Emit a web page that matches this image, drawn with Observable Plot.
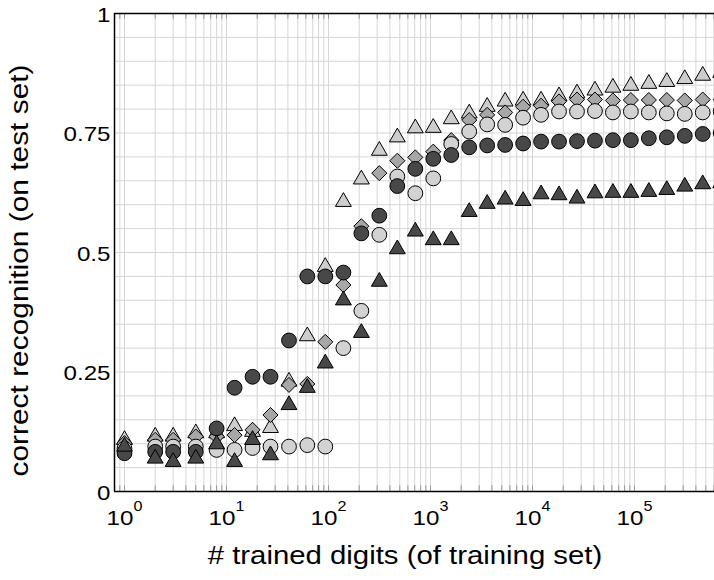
<!DOCTYPE html>
<html><head><meta charset="utf-8">
<script src="https://cdn.jsdelivr.net/npm/d3@7"></script>
<script src="https://cdn.jsdelivr.net/npm/@observablehq/plot@0.6"></script>
<style>body{margin:0;background:#fff}</style>
</head><body><div id="chart"></div>
<script>
const xValues = [1,2,3,5,8,12,18,27,41,62,93,140,210,315,473,710,1065,1598,2397,3596,5394,8091,12137,18206,27309,40964,61446,92169,138254,207381,311072,466608,699912];
const darkCircle = [0.080,0.083,0.083,0.083,0.132,0.217,0.240,0.240,0.316,0.450,0.450,0.458,0.540,0.577,0.639,0.675,0.696,0.704,0.720,0.724,0.725,0.728,0.732,0.732,0.733,0.734,0.735,0.735,0.739,0.741,0.744,0.748,0.750];
const lightCircle = [0.090,0.094,0.094,0.094,0.087,0.087,0.091,0.094,0.094,0.097,0.094,0.300,0.378,0.537,0.659,0.624,0.655,0.727,0.753,0.768,0.767,0.782,0.788,0.795,0.795,0.796,0.793,0.795,0.793,0.791,0.790,0.793,0.795];
const lightTriangle = [0.108,0.115,0.115,0.122,0.122,0.137,0.125,0.133,0.230,0.325,0.470,0.606,0.653,0.713,0.741,0.760,0.761,0.779,0.791,0.805,0.816,0.818,0.818,0.827,0.833,0.839,0.845,0.849,0.853,0.857,0.863,0.870,0.876];
const darkTriangle = [0.094,0.069,0.062,0.069,0.099,0.062,0.108,0.076,0.181,0.217,0.268,0.400,0.332,0.439,0.507,0.544,0.526,0.526,0.585,0.602,0.611,0.608,0.622,0.620,0.613,0.624,0.625,0.625,0.627,0.631,0.638,0.643,0.645];
const diamond = [0.101,0.108,0.108,0.115,0.115,0.118,0.129,0.160,0.223,0.225,0.313,0.432,0.555,0.666,0.692,0.699,0.711,0.735,0.777,0.788,0.793,0.805,0.807,0.816,0.820,0.820,0.818,0.819,0.819,0.819,0.818,0.820,0.820];

const yTicks = [0, 0.25, 0.5, 0.75, 1];
const yTickLabels = ["0", "0.25", "0.5", "0.75", "1"];
const xTicks = [1, 10, 100, 1000, 10000, 100000];
const xTickExponents = ["0", "1", "2", "3", "4", "5"];
const xLabel = "# trained digits (of training set)";
const yLabel = "correct recognition (on test set)";

const xDomain = [0.798, 608700];
const FONT = "'Liberation Sans', Arial, Helvetica, sans-serif";
const TEXT_STRETCH = 1.15;

// series drawn bottom to top
const series = [
  {values: lightTriangle, symbol: "triangle", fill: "#cdcdcd", r: 5.9},
  {values: diamond, symbol: "diamond2", fill: "#a7a7a7", r: 6.8},
  {values: lightCircle, symbol: "circle", fill: "#d2d2d2", r: 7.4},
  {values: darkCircle, symbol: "circle", fill: "#484848", r: 7.4},
  {values: darkTriangle, symbol: "triangle", fill: "#484848", r: 5.9}
];

// grid positions (styling only)
const gridX = [];
for (let k = -1; k <= 5; k++) for (let m = 1; m <= 9; m++) {
  const v = m * Math.pow(10, k);
  if (v > xDomain[0] && v < xDomain[1]) gridX.push(v);
}
const gridY = d3.range(0, 1.0001, 0.05);
const xTickData = xTicks.map((v, i) => ({v, e: xTickExponents[i]}));
const yTickData = yTicks.map((v, i) => ({v, t: yTickLabels[i]}));

const marks = [
  Plot.ruleX(gridX, {x: d => d, stroke: "#d6d6d6", strokeWidth: 1}),
  Plot.ruleY(gridY, {y: d => d, stroke: "#d6d6d6", strokeWidth: 1}),
  Plot.ruleX(gridX, {x: d => d, y1: 0, y2: 0.012, stroke: "#999"}),
  Plot.ruleX(gridX, {x: d => d, y1: 0.988, y2: 1, stroke: "#999"}),
  Plot.ruleY([0, 1], {stroke: "black", strokeWidth: 1.5}),
  Plot.ruleX([xDomain[0]], {stroke: "black", strokeWidth: 1.5}),
];
for (const s of series) {
  marks.push(Plot.dot(xValues, {
    x: d => d, y: (d, i) => s.values[i], symbol: s.symbol, r: s.r,
    fill: s.fill, stroke: "black", strokeWidth: 1, clip: true
  }));
}
marks.push(
  Plot.text(yTickData, {x: xDomain[0], y: "v", text: "t", textAnchor: "end", dx: -4, dy: 1.5, fontSize: 21, fill: "black"}),
  Plot.text(xTickData, {x: "v", y: 0, text: () => "10", dx: -4.5, dy: 27, fontSize: 21, fill: "black"}),
  Plot.text(xTickData, {x: "v", y: 0, text: "e", dx: 13.5, dy: 15, fontSize: 14, fill: "black"}),
  Plot.text([xLabel], {frameAnchor: "bottom", dx: -9.5, dy: 72, fontSize: 25.5, fill: "black"}),
  Plot.text([yLabel], {frameAnchor: "left", textAnchor: "middle", rotate: -90, dx: -95, dy: 18, fontSize: 26, fill: "black"})
);

const chart = Plot.plot({
  width: 714, height: 580,
  marginLeft: 114, marginTop: 13, marginBottom: 89, marginRight: 0,
  style: {fontFamily: FONT, background: "white", overflow: "visible"},
  x: {type: "log", domain: xDomain, axis: null},
  y: {domain: [0, 1], axis: null},
  marks
});
document.getElementById("chart").appendChild(chart);
// widen glyphs slightly to match the reference's wide Helvetica rendering
chart.querySelectorAll("text").forEach(t => {
  const w = t.getComputedTextLength();
  if (w > 0) {
    t.setAttribute("textLength", (w * TEXT_STRETCH).toFixed(1));
    t.setAttribute("lengthAdjust", "spacingAndGlyphs");
  }
});
</script>
</body></html>
